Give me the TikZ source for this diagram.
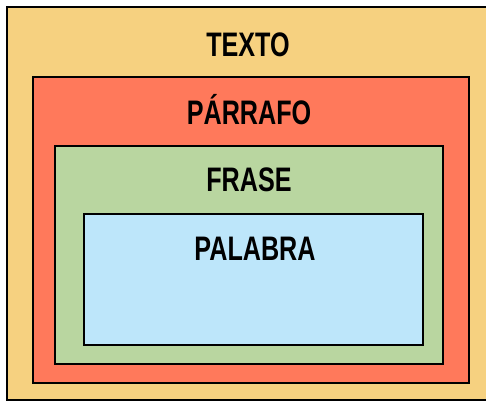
\documentclass[tikz,border=0pt]{standalone}
\usepackage{fontspec}
\setmainfont{Liberation Sans}[FakeStretch=0.74]
\definecolor{amarillo}{RGB}{246,209,128}
\definecolor{rojo}{RGB}{255,121,91}
\definecolor{verde}{RGB}{185,214,160}
\definecolor{celeste}{RGB}{189,230,250}
\tikzset{
 capa/.style={draw=black,line width=1.3pt},
 titulo/.style={font=\fontsize{34}{34}\selectfont\bfseries,inner sep=0pt}
}

\begin{document}
\begin{tikzpicture}[x=1pt,y=-1pt]
\useasboundingbox (0,0) rectangle (486,402);
\draw[capa,fill=amarillo] (7,7) rectangle (490,400);
\draw[capa,fill=rojo] (33,77) rectangle (469,383);
\draw[capa,fill=verde] (55,146) rectangle (443,364);
\draw[capa,fill=celeste] (84,214) rectangle (423,345);
\node[titulo] (texto) at (248,45) {TEXTO};
\node[titulo] (parrafo) at (249,110) {PÁRRAFO};
\node[titulo] (frase) at (249,180) {FRASE};
\node[titulo] (palabra) at (255,249) {PALABRA};
\end{tikzpicture}
\end{document}
